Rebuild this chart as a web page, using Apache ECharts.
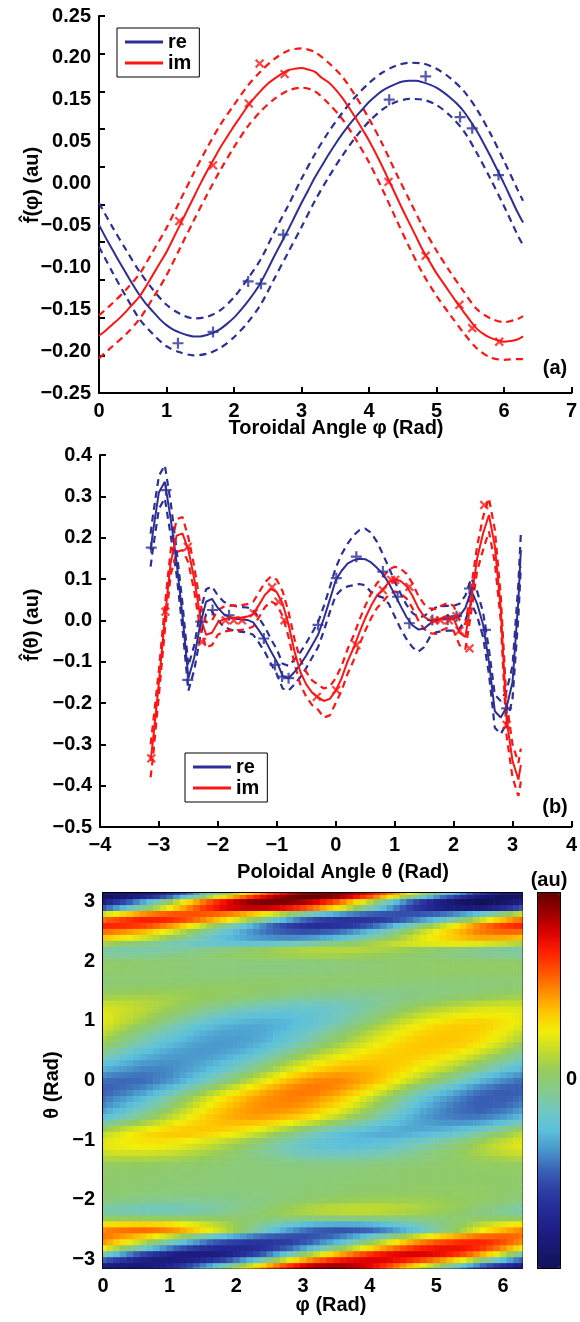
<!DOCTYPE html>
<html>
<head>
<meta charset="utf-8">
<script src="https://cdn.jsdelivr.net/npm/echarts@6/dist/echarts.min.js"></script>
<style>
html,body{margin:0;padding:0;background:#fff}
#c{width:580px;height:1322px}
</style>
</head>
<body>
<div id="c"></div>
<script>
// ---------- (a) toroidal profile f(phi) ----------
const phiA = [0,0.1,0.2,0.3,0.4,0.5,0.6,0.7,0.8,0.9,1.0,1.1,1.2,1.3,1.4,1.5,1.6,1.7,1.8,1.9,2.0,2.1,2.2,2.3,2.4,2.5,2.6,2.7,2.8,2.9,3.0,3.1,3.2,3.3,3.4,3.5,3.6,3.7,3.8,3.9,4.0,4.1,4.2,4.3,4.4,4.5,4.6,4.7,4.8,4.9,5.0,5.1,5.2,5.3,5.4,5.5,5.6,5.7,5.8,5.9,6.0,6.1,6.2,6.2832];
const reA = [-0.027,-0.044,-0.060,-0.076,-0.091,-0.106,-0.120,-0.132,-0.142,-0.152,-0.160,-0.166,-0.170,-0.173,-0.175,-0.175,-0.173,-0.170,-0.165,-0.158,-0.150,-0.140,-0.129,-0.117,-0.103,-0.086,-0.068,-0.051,-0.034,-0.016,0.002,0.019,0.036,0.051,0.066,0.080,0.093,0.105,0.116,0.126,0.136,0.144,0.151,0.156,0.160,0.163,0.164,0.164,0.162,0.159,0.155,0.149,0.142,0.134,0.124,0.111,0.097,0.081,0.064,0.046,0.028,0.009,-0.010,-0.024];
const imA = [-0.174,-0.167,-0.159,-0.151,-0.142,-0.132,-0.122,-0.108,-0.093,-0.078,-0.063,-0.045,-0.027,-0.009,0.009,0.027,0.044,0.060,0.076,0.090,0.104,0.117,0.130,0.141,0.151,0.160,0.167,0.173,0.178,0.180,0.181,0.179,0.176,0.168,0.162,0.153,0.142,0.129,0.115,0.100,0.085,0.068,0.050,0.031,0.012,-0.007,-0.025,-0.043,-0.061,-0.076,-0.091,-0.104,-0.117,-0.130,-0.142,-0.154,-0.165,-0.172,-0.177,-0.180,-0.182,-0.181,-0.179,-0.175];
// dashed uncertainty bands, sampled every 0.2 rad
const phiBand = [0,0.2,0.4,0.6,0.8,1.0,1.2,1.4,1.6,1.8,2.0,2.2,2.4,2.6,2.8,3.0,3.2,3.4,3.6,3.8,4.0,4.2,4.4,4.6,4.8,5.0,5.2,5.4,5.6,5.8,6.0,6.2,6.2832];
const reAHi = [0.002,-0.030,-0.060,-0.089,-0.113,-0.133,-0.145,-0.151,-0.149,-0.140,-0.123,-0.099,-0.072,-0.036,-0.002,0.034,0.067,0.096,0.121,0.143,0.161,0.175,0.184,0.188,0.187,0.180,0.168,0.151,0.126,0.094,0.058,0.020,0.005];
const reALo = [-0.056,-0.090,-0.122,-0.152,-0.172,-0.188,-0.196,-0.200,-0.198,-0.190,-0.176,-0.157,-0.132,-0.098,-0.064,-0.030,0.005,0.036,0.064,0.089,0.110,0.126,0.136,0.140,0.139,0.132,0.118,0.098,0.068,0.034,-0.002,-0.040,-0.054];
const imAHi = [-0.147,-0.131,-0.113,-0.092,-0.062,-0.031,0.005,0.041,0.075,0.106,0.132,0.157,0.177,0.193,0.204,0.207,0.202,0.188,0.170,0.144,0.114,0.080,0.042,0.006,-0.030,-0.061,-0.089,-0.115,-0.139,-0.151,-0.156,-0.152,-0.148];
const imALo = [-0.204,-0.188,-0.172,-0.152,-0.124,-0.094,-0.058,-0.022,0.013,0.046,0.076,0.103,0.124,0.140,0.151,0.155,0.150,0.134,0.114,0.087,0.056,0.020,-0.019,-0.057,-0.092,-0.121,-0.146,-0.170,-0.191,-0.203,-0.206,-0.205,-0.205];
const reAPts = [[1.17,-0.184],[1.69,-0.169],[2.21,-0.102],[2.40,-0.105],[2.73,-0.040],[4.30,0.139],[4.84,0.170],[5.35,0.116],[5.53,0.101],[5.92,0.039]];
const imAPts = [[1.19,-0.022],[1.69,0.052],[2.22,0.134],[2.38,0.187],[2.75,0.173],[4.29,0.030],[4.84,-0.068],[5.34,-0.133],[5.53,-0.164],[5.93,-0.182]];
const yLabelsA = ['\u22120.25','\u22120.20','\u22120.15','\u22120.10','\u22120.05','0.00','0.05','0.15','0.20','0.25'];

// ---------- (b) poloidal profile f(theta) ----------
const thetaB = [-3.1416,-3.1,-3.0,-2.9,-2.8,-2.7,-2.6,-2.5,-2.4,-2.3,-2.2,-2.1,-2.0,-1.9,-1.8,-1.7,-1.6,-1.5,-1.4,-1.3,-1.2,-1.1,-1.0,-0.9,-0.8,-0.7,-0.6,-0.5,-0.4,-0.3,-0.2,-0.1,0.0,0.1,0.2,0.3,0.4,0.5,0.6,0.7,0.8,0.9,1.0,1.1,1.2,1.3,1.4,1.5,1.6,1.7,1.8,1.9,2.0,2.1,2.2,2.3,2.4,2.5,2.6,2.7,2.8,2.9,3.0,3.1,3.1416];
const reB   = [0.170,0.215,0.310,0.335,0.245,0.140,0.010,-0.140,-0.090,-0.010,0.045,0.052,0.030,0.015,0.008,0.004,0.002,0.001,-0.005,-0.025,-0.047,-0.075,-0.100,-0.135,-0.140,-0.125,-0.107,-0.085,-0.060,-0.035,0.005,0.050,0.097,0.120,0.137,0.145,0.149,0.148,0.140,0.127,0.112,0.090,0.063,0.035,0.008,-0.012,-0.022,-0.020,-0.008,0.001,0.004,0.005,0.005,0.010,0.030,0.072,0.040,-0.010,-0.100,-0.220,-0.235,-0.210,-0.150,0.050,0.170];
const reBHi = [0.21,0.255,0.35,0.375,0.285,0.17,0.04,-0.11,-0.06,0.02,0.075,0.082,0.06,0.045,0.038,0.034,0.032,0.031,0.025,0.005,-0.017,-0.045,-0.07,-0.105,-0.11,-0.095,-0.077,-0.055,-0.03,-0.005,0.035,0.08,0.127,0.16,0.185,0.205,0.218,0.222,0.212,0.19,0.16,0.128,0.095,0.065,0.038,0.018,0.008,0.01,0.022,0.031,0.034,0.035,0.035,0.04,0.06,0.102,0.07,0.02,-0.07,-0.18,-0.195,-0.17,-0.11,0.09,0.21];
const reBLo = [0.13,0.175,0.27,0.295,0.205,0.11,-0.02,-0.17,-0.12,-0.04,0.015,0.022,0.0,-0.015,-0.022,-0.026,-0.028,-0.029,-0.035,-0.055,-0.077,-0.105,-0.13,-0.165,-0.17,-0.155,-0.137,-0.115,-0.09,-0.065,-0.025,0.02,0.06,0.075,0.082,0.085,0.088,0.085,0.068,0.06,0.055,0.04,0.01,-0.02,-0.045,-0.065,-0.076,-0.065,-0.04,-0.029,-0.026,-0.025,-0.025,-0.02,0.0,0.042,0.01,-0.04,-0.13,-0.26,-0.275,-0.25,-0.19,0.01,0.13];
const imB   = [-0.340,-0.290,-0.150,0.005,0.140,0.205,0.210,0.170,0.100,0.010,-0.035,-0.030,-0.005,0.003,0.005,0.006,0.007,0.009,0.015,0.038,0.062,0.076,0.068,0.040,-0.010,-0.075,-0.125,-0.155,-0.175,-0.186,-0.195,-0.190,-0.170,-0.140,-0.100,-0.068,-0.030,0.005,0.035,0.060,0.075,0.092,0.100,0.095,0.083,0.060,0.030,0.009,-0.001,-0.003,0.006,0.012,0.005,-0.030,-0.040,0.050,0.150,0.210,0.255,0.180,0.030,-0.240,-0.340,-0.385,-0.350];
const imBHi = [-0.30,-0.25,-0.12,0.035,0.17,0.245,0.25,0.2,0.13,0.04,-0.005,0.0,0.025,0.033,0.035,0.036,0.037,0.039,0.045,0.068,0.092,0.106,0.098,0.07,0.02,-0.045,-0.095,-0.125,-0.145,-0.156,-0.165,-0.16,-0.14,-0.11,-0.07,-0.038,0.0,0.035,0.065,0.09,0.105,0.122,0.13,0.125,0.113,0.09,0.06,0.039,0.029,0.027,0.036,0.042,0.035,0.0,-0.01,0.08,0.18,0.25,0.295,0.22,0.06,-0.2,-0.3,-0.345,-0.31];
const imBLo = [-0.38,-0.33,-0.18,-0.025,0.11,0.165,0.17,0.14,0.07,-0.02,-0.065,-0.06,-0.035,-0.027,-0.025,-0.024,-0.023,-0.021,-0.015,0.008,0.032,0.046,0.038,0.01,-0.04,-0.105,-0.155,-0.185,-0.205,-0.216,-0.235,-0.23,-0.2,-0.17,-0.13,-0.098,-0.06,-0.025,0.005,0.03,0.045,0.062,0.07,0.065,0.053,0.03,0.0,-0.021,-0.031,-0.033,-0.024,-0.018,-0.025,-0.06,-0.07,0.02,0.12,0.17,0.215,0.14,0.0,-0.28,-0.38,-0.425,-0.39];
const reBPts = [[-3.13,0.176],[-2.88,0.315],[-2.51,-0.144],[-2.29,-0.003],[-2.09,0.025],[-1.81,0.012],[-1.22,-0.044],[-1.03,-0.108],[-0.91,-0.136],[-0.80,-0.140],[-0.30,-0.011],[0.01,0.102],[0.35,0.154],[0.80,0.118],[1.05,0.057],[1.25,-0.007],[1.64,0.001],[1.90,0.002],[2.05,0.010],[2.27,0.077],[2.54,-0.023],[2.90,-0.213]];
const imBPts = [[-3.13,-0.334],[-2.89,0.021],[-2.51,0.178],[-2.27,-0.052],[-1.87,0.0],[-1.73,0.0],[-1.59,0.0],[-1.39,0.017],[-1.08,0.080],[-0.97,0.045],[-0.87,0.0],[-0.32,-0.185],[0.01,-0.169],[0.35,-0.060],[0.80,0.073],[0.94,0.098],[1.01,0.098],[1.25,0.081],[1.67,0.0],[1.78,0.0],[1.92,0.0],[2.05,0.010],[2.10,-0.025],[2.27,-0.068],[2.52,0.279],[2.90,-0.253]];

// ---------- (c) colour scale (dark blue -> green at zero -> dark red) ----------
const jetColors = ['#12125a','#181872','#1e1e86','#262c98','#2e40a4','#3a64b6','#4a98cc','#5cc0dc','#72c8c0','#86ca8c','#94cc5c','#c4dc2c','#f2ee08','#ffc400','#ff8c00','#ff5400','#ff2000','#dc0000','#9c0000','#640000'];
const cbarTicks = [-0.06,-0.04,-0.02,0,0.02,0.04,0.06];

const BLUE = '#2b2f96', RED = '#ff1414', FONT = 'Liberation Sans';
const minus = s => s.replace('-', '\u2212');

// mode structure on the (phi, theta) plane: Re[f(phi) * f(theta)]
function edges(s) {
  const e = [s[0]];
  for (let i = 1; i < s.length; i++) e.push((s[i - 1] + s[i]) / 2);
  e.push(s[s.length - 1]);
  return e;
}
const phiEdge = edges(phiA), thEdge = edges(thetaB);
const cells = [];
let vmin = Infinity, vmax = -Infinity;
for (let j = 0; j < thetaB.length; j++) {
  for (let i = 0; i < phiA.length; i++) {
    const v = reA[i] * reB[j] - imA[i] * imB[j];
    vmin = Math.min(vmin, v); vmax = Math.max(vmax, v);
    cells.push([phiEdge[i], phiEdge[i + 1], thEdge[j], thEdge[j + 1], v]);
  }
}

const pair = (xs, ys) => xs.map((x, i) => [x, ys[i]]);
const axisLine = {onZero: false, lineStyle: {color: '#000', width: 2}};
const tickIn = {inside: true, length: 6, lineStyle: {color: '#000', width: 2}};
const lbl = {color: '#000', fontSize: 20, fontWeight: 'bold', fontFamily: FONT};
const noSplit = {show: false};

const plusPath = 'path://M-1,-5H1V-1H5V1H1V5H-1V1H-5V-1H-1Z';

function lineSeries(name, x, y, data, color, dashed) {
  return {
    type: 'line', name, xAxisIndex: x, yAxisIndex: y, data,
    showSymbol: false, smooth: x === 0 ? 0.3 : false, silent: true,
    lineStyle: {color, width: dashed ? 2.2 : 2, type: dashed ? [7, 5] : 'solid'},
    itemStyle: {color}, z: dashed ? 3 : 4
  };
}
function markSeries(name, x, y, data, color, rot) {
  return {
    type: 'scatter', name, xAxisIndex: x, yAxisIndex: y, data,
    symbol: plusPath, symbolSize: 11, symbolRotate: rot, silent: true,
    itemStyle: {color}, z: 5
  };
}

const series = [
  {
    type: 'custom', name: 'map', xAxisIndex: 2, yAxisIndex: 3, data: cells,
    encode: {x: [0, 1], y: [2, 3]}, silent: true, clip: true,
    renderItem: (params, api) => {
      const a = api.coord([api.value(0), api.value(3)]);
      const b = api.coord([api.value(1), api.value(2)]);
      return {type: 'rect', shape: {x: a[0], y: a[1], width: b[0] - a[0] + 0.6, height: b[1] - a[1] + 0.6},
              style: {fill: api.visual('color')}};
    }
  },
  lineSeries('re', 0, 0, pair(phiA, reA), BLUE, false),
  lineSeries('im', 0, 0, pair(phiA, imA), RED, false),
  lineSeries('re hi', 0, 0, pair(phiBand, reAHi), BLUE, true),
  lineSeries('re lo', 0, 0, pair(phiBand, reALo), BLUE, true),
  lineSeries('im hi', 0, 0, pair(phiBand, imAHi), RED, true),
  lineSeries('im lo', 0, 0, pair(phiBand, imALo), RED, true),
  markSeries('re pts', 0, 0, reAPts, BLUE, 0),
  markSeries('im pts', 0, 0, imAPts, RED, 45),
  lineSeries('re', 1, 2, pair(thetaB, reB), BLUE, false),
  lineSeries('im', 1, 2, pair(thetaB, imB), RED, false),
  lineSeries('re hi', 1, 2, pair(thetaB, reBHi), BLUE, true),
  lineSeries('re lo', 1, 2, pair(thetaB, reBLo), BLUE, true),
  lineSeries('im hi', 1, 2, pair(thetaB, imBHi), RED, true),
  lineSeries('im lo', 1, 2, pair(thetaB, imBLo), RED, true),
  markSeries('re pts', 1, 2, reBPts, BLUE, 0),
  markSeries('im pts', 1, 2, imBPts, RED, 45)
];

const legendBase = {
  orient: 'vertical', icon: 'rect', itemWidth: 38, itemHeight: 3, itemGap: 1,
  padding: [4, 8, 4, 8], borderColor: '#000', borderWidth: 1, backgroundColor: '#fff',
  textStyle: {color: '#000', fontSize: 20, fontWeight: 'bold', fontFamily: FONT, lineHeight: 20},
  selectedMode: false, data: ['re', 'im']
};

const txt = (text, x, y, rot) => ({
  type: 'text', x, y, rotation: rot || 0, silent: true,
  style: {text, fill: '#000', fontSize: 20, fontWeight: 'bold', fontFamily: FONT, align: 'center', verticalAlign: 'middle'}
});

const option = {
  animation: false,
  backgroundColor: '#fff',
  grid: [
    {left: 99, top: 16, width: 474, height: 377},
    {left: 100, top: 455, width: 475, height: 372},
    {left: 103, top: 893, width: 419, height: 375},
    {left: 538, top: 893, width: 22, height: 375}
  ],
  xAxis: [
    {gridIndex: 0, type: 'value', min: 0, max: 7, interval: 1, axisLine, axisTick: tickIn, splitLine: noSplit,
     axisLabel: Object.assign({margin: 8}, lbl)},
    {gridIndex: 1, type: 'value', min: -4, max: 4, interval: 1, axisLine, axisTick: tickIn, splitLine: noSplit,
     axisLabel: Object.assign({margin: 8, formatter: v => minus(String(v))}, lbl)},
    {gridIndex: 2, type: 'value', min: 0, max: 2 * Math.PI, position: 'bottom', axisLine, splitLine: noSplit,
     axisTick: Object.assign({customValues: [0, 1, 2, 3, 4, 5, 6]}, tickIn),
     axisLabel: Object.assign({margin: 8, customValues: [0, 1, 2, 3, 4, 5, 6]}, lbl)},
    {gridIndex: 2, type: 'value', min: 0, max: 2 * Math.PI, position: 'top', axisLine, splitLine: noSplit,
     axisTick: Object.assign({customValues: [0, 1, 2, 3, 4, 5, 6]}, tickIn), axisLabel: {show: false}},
    {gridIndex: 3, type: 'value', min: 0, max: 1, position: 'bottom', axisLine, splitLine: noSplit,
     axisTick: {show: false}, axisLabel: {show: false}},
    {gridIndex: 3, type: 'value', min: 0, max: 1, position: 'top', axisLine, splitLine: noSplit,
     axisTick: {show: false}, axisLabel: {show: false}}
  ],
  yAxis: [
    {gridIndex: 0, type: 'value', min: -0.25, max: 0.25, interval: 0.05, axisLine, axisTick: tickIn,
     splitLine: noSplit, axisLabel: {show: false}},
    {gridIndex: 0, type: 'value', min: 0, max: 9, interval: 1, position: 'left', axisLine: {show: false},
     axisTick: {show: false}, splitLine: noSplit,
     axisLabel: Object.assign({margin: 8, formatter: v => yLabelsA[Math.round(v)]}, lbl)},
    {gridIndex: 1, type: 'value', min: -0.5, max: 0.4, interval: 0.1, axisLine, axisTick: tickIn, splitLine: noSplit,
     axisLabel: Object.assign({margin: 8, formatter: v => Math.abs(v) < 1e-9 ? '0.0' : minus(v.toFixed(1))}, lbl)},
    {gridIndex: 2, type: 'value', min: -Math.PI, max: Math.PI, position: 'left', axisLine, splitLine: noSplit,
     axisTick: Object.assign({customValues: [-3, -2, -1, 0, 1, 2, 3]}, tickIn),
     axisLabel: Object.assign({margin: 8, customValues: [-3, -2, -1, 0, 1, 2, 3], formatter: v => minus(String(v))}, lbl)},
    {gridIndex: 2, type: 'value', min: -Math.PI, max: Math.PI, position: 'right', axisLine, splitLine: noSplit,
     axisTick: Object.assign({customValues: [-3, -2, -1, 0, 1, 2, 3]}, tickIn), axisLabel: {show: false}},
    {gridIndex: 3, type: 'value', min: vmin, max: vmax, position: 'left', axisLine, splitLine: noSplit,
     axisTick: Object.assign({customValues: cbarTicks}, tickIn), axisLabel: {show: false}},
    {gridIndex: 3, type: 'value', min: vmin, max: vmax, position: 'right', axisLine, splitLine: noSplit,
     axisTick: Object.assign({customValues: cbarTicks}, tickIn),
     axisLabel: Object.assign({margin: 6, customValues: [0], formatter: () => '0'}, lbl)}
  ],
  visualMap: {
    type: 'continuous', seriesIndex: 0, dimension: 4, min: vmin, max: vmax,
    inRange: {color: jetColors}, calculable: false, orient: 'vertical',
    left: 538, top: 893, itemWidth: 22, itemHeight: 375, padding: 0, hoverLink: false
  },
  legend: [
    Object.assign({left: 117, top: 28}, legendBase),
    Object.assign({left: 185, top: 753}, legendBase)
  ],
  graphic: [
    txt('f\u0302(\u03c6) (au)', 32, 185, Math.PI / 2),
    txt('Toroidal Angle \u03c6 (Rad)', 336, 428),
    txt('(a)', 555, 368),
    txt('f\u0302(\u03b8) (au)', 32, 625, Math.PI / 2),
    txt('Poloidal Angle \u03b8 (Rad)', 343, 872),
    txt('(b)', 555, 807),
    txt('\u03b8 (Rad)', 52, 1085, Math.PI / 2),
    txt('\u03c6 (Rad)', 331, 1305),
    txt('(c)', 500, 1211),
    txt('(au)', 549, 880)
  ],
  series
};

const chart = echarts.init(document.getElementById('c'));
chart.setOption(option);
</script>
</body>
</html>
